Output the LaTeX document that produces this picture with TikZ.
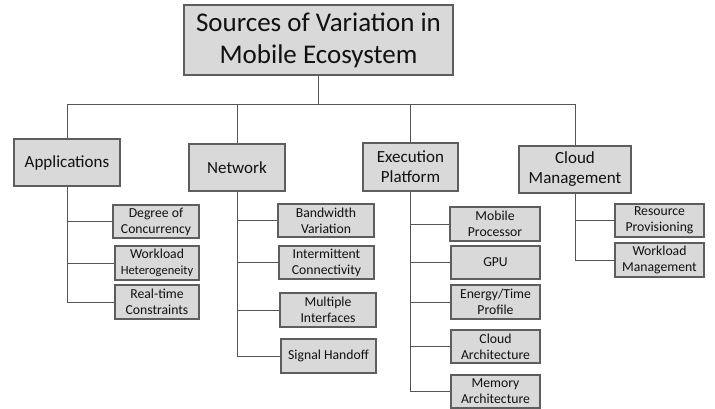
\documentclass[tikz,border=0pt]{standalone}
\usepackage{fontspec}
\setmainfont{Carlito}
\usetikzlibrary{shadows}
\definecolor{boxfill}{HTML}{D9D9D9}
\definecolor{boxline}{HTML}{5E5E5E}
\definecolor{conn}{HTML}{555555}
\definecolor{txt}{HTML}{111111}
\tikzset{
  box/.style={draw=boxline, fill=boxfill, line width=1.2pt, inner sep=0pt, align=center, text=txt,
    drop shadow={shadow xshift=1pt, shadow yshift=-1pt, opacity=0.35, fill=black}},
  rootbox/.style={box, font=\fontsize{27}{32}\selectfont},
  catbox/.style={box, font=\fontsize{17}{20}\selectfont},
  leafbox/.style={box, font=\fontsize{13.7}{16}\selectfont},
  link/.style={draw=conn, line width=0.9pt}
}
\begin{document}
\begin{tikzpicture}[x=1pt,y=-1pt]
\useasboundingbox (0,0) rectangle (715,409);
% root
\node[rootbox, minimum width=269pt, minimum height=70pt] (root) at (318.5,40) {Sources of Variation in\\Mobile Ecosystem};
% categories
\node[catbox, minimum width=106pt, minimum height=47pt] (app) at (67,162.5) {Applications};
\node[catbox, minimum width=96pt, minimum height=47pt] (net) at (237,167.5) {Network};
\node[catbox, minimum width=95pt, minimum height=48pt] (exe) at (410.5,167) {Execution\\Platform};
\node[catbox, minimum width=112pt, minimum height=47pt] (cld) at (575,169.5) {Cloud\\Management};
% applications leaves
\node[leafbox, minimum width=86pt, minimum height=33pt] (a1) at (156,221.5) {Degree of\\Concurrency};
\node[leafbox, minimum width=84pt, minimum height=34pt] (a2) at (157,263) {Workload\\{\fontsize{12.5}{15}\selectfont Heterogeneity}};
\node[leafbox, minimum width=84pt, minimum height=34pt] (a3) at (157,302) {Real-time\\Constraints};
% network leaves
\node[leafbox, minimum width=96pt, minimum height=33pt] (n1) at (326,220.5) {Bandwidth\\Variation};
\node[leafbox, minimum width=95pt, minimum height=33pt] (n2) at (326.5,262.5) {Intermittent\\Connectivity};
\node[leafbox, minimum width=96pt, minimum height=34pt] (n3) at (328,310) {Multiple\\Interfaces};
\node[leafbox, minimum width=95pt, minimum height=34pt] (n4) at (328.5,356) {Signal Handoff};
% execution leaves
\node[leafbox, minimum width=90pt, minimum height=34pt] (e1) at (495,224) {Mobile\\Processor};
\node[leafbox, minimum width=89pt, minimum height=33pt] (e2) at (495.5,262.5) {GPU};
\node[leafbox, minimum width=89pt, minimum height=34pt] (e3) at (495.5,302) {Energy/Time\\Profile};
\node[leafbox, minimum width=89pt, minimum height=33pt] (e4) at (495.5,346.5) {Cloud\\Architecture};
\node[leafbox, minimum width=89pt, minimum height=33pt] (e5) at (495.5,391.5) {Memory\\Architecture};
% cloud leaves
\node[leafbox, minimum width=89pt, minimum height=33pt] (c1) at (659.5,220.5) {Resource\\Provisioning};
\node[leafbox, minimum width=89pt, minimum height=34pt] (c2) at (659.5,260) {Workload\\Management};
% top-level connectors
\coordinate (bar) at (320,104);
\draw[link] (root.south) -- (root.south |- bar);
\draw[link] (app.north |- bar) -- (cld.north |- bar);
\foreach \c in {app,net,exe,cld} \draw[link] (\c.north |- bar) -- (\c.north);
% leaf connectors
\draw[link] (app.south) |- (a3.west);
\foreach \l in {a1,a2} \draw[link] (app.south |- \l.west) -- (\l.west);
\draw[link] (net.south) |- (n4.west);
\foreach \l in {n1,n2,n3} \draw[link] (net.south |- \l.west) -- (\l.west);
\draw[link] (exe.south) |- (e5.west);
\foreach \l in {e1,e2,e3,e4} \draw[link] (exe.south |- \l.west) -- (\l.west);
\draw[link] (cld.south) |- (c2.west);
\draw[link] (cld.south |- c1.west) -- (c1.west);
\end{tikzpicture}
\end{document}
